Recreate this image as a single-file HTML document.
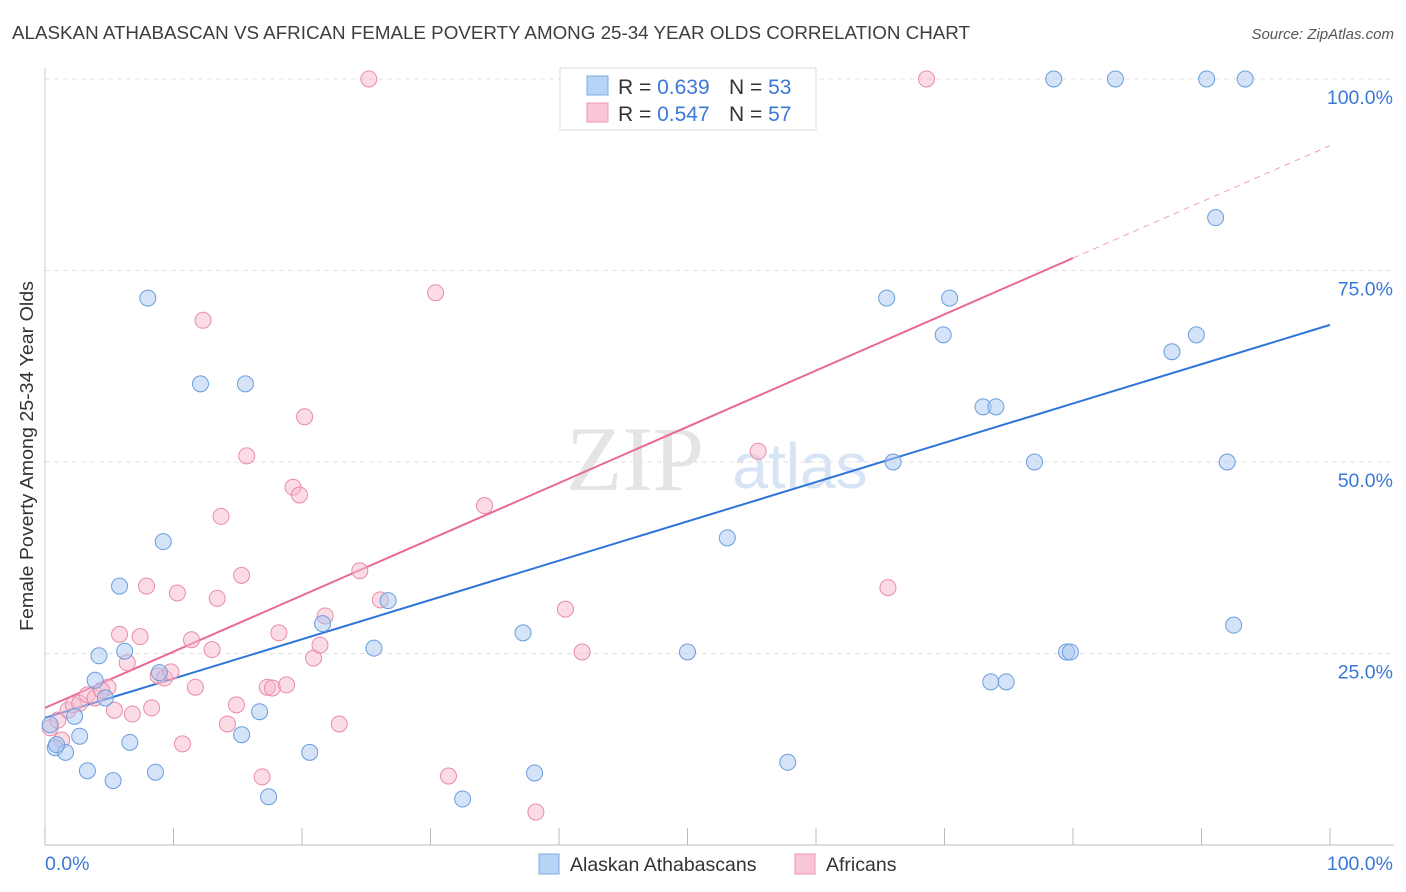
<!DOCTYPE html>
<html><head><meta charset="utf-8"><style>
body{margin:0;background:#fff;font-family:"Liberation Sans",sans-serif;}
svg{display:block}
</style></head><body>
<svg id="chart" width="1406" height="892">
<text x="12" y="39" font-size="18" fill="#3d3d3d" textLength="958" lengthAdjust="spacingAndGlyphs">ALASKAN ATHABASCAN VS AFRICAN FEMALE POVERTY AMONG 25-34 YEAR OLDS CORRELATION CHART</text>
<text x="1394" y="39" font-size="15" fill="#555" text-anchor="end" font-style="italic">Source: ZipAtlas.com</text>
<text x="635" y="490" font-size="92" fill="#e4e4e4" text-anchor="middle" font-family="Liberation Serif,serif">ZIP</text>
<text x="800" y="488" font-size="64" fill="#d6e4f5" text-anchor="middle">atlas</text>
<g id="grid"></g>
<g id="axes"></g>
<g id="lines"></g>
<g id="pts"></g>
<text x="33" y="456" font-size="18" fill="#333" text-anchor="middle" textLength="350" lengthAdjust="spacingAndGlyphs" transform="rotate(-90 33 456)">Female Poverty Among 25-34 Year Olds</text>
<g>
<rect x="560" y="68" width="256" height="62" fill="#fff" stroke="#ddd"/>
<rect x="587" y="76" width="21" height="19" fill="#b7d3f5" stroke="#7eaae6"/>
<rect x="587" y="103" width="21" height="19" fill="#f9c6d5" stroke="#ec9ab4"/>
<text x="618" y="94" font-size="21" fill="#333">R = <tspan fill="#3a78d8">0.639</tspan></text>
<text x="729" y="94" font-size="21" fill="#333">N = <tspan fill="#3a78d8">53</tspan></text>
<text x="618" y="121" font-size="21" fill="#333">R = <tspan fill="#3a78d8">0.547</tspan></text>
<text x="729" y="121" font-size="21" fill="#333">N = <tspan fill="#3a78d8">57</tspan></text>
</g>
<g>
<rect x="539" y="854" width="20" height="20" fill="#b7d3f5" stroke="#7eaae6"/>
<text x="570" y="871" font-size="19.5" fill="#333">Alaskan Athabascans</text>
<rect x="795" y="854" width="20" height="20" fill="#f9c6d5" stroke="#ec9ab4"/>
<text x="826" y="871" font-size="19.5" fill="#333">Africans</text>
</g>
</svg>
<script>
const blueX=[0.8,1.6,2.7,3.3,5.3,2.3,4.2,3.9,6.2,4.7,6.6,8.0,8.6,8.9,9.2,5.8,12.1,15.6,16.7,15.3,17.4,20.6,21.6,25.6,26.7,32.5,37.2,38.1,50.0,53.1,57.8,65.5,66.0,69.9,70.4,73.0,74.0,73.6,74.8,77.0,78.5,79.5,79.8,83.3,87.7,89.6,90.4,91.1,92.0,92.5,93.4,0.4,0.9];
const blueY=[12.7,12.1,14.2,9.7,8.4,16.8,24.7,21.5,25.3,19.2,13.4,71.4,9.5,22.5,39.6,33.8,60.2,60.2,17.4,14.4,6.3,12.1,28.9,25.7,31.9,6.0,27.7,9.4,25.2,40.1,10.8,71.4,50.0,66.6,71.4,57.2,57.2,21.3,21.3,50.0,100,25.2,25.2,100,64.4,66.6,100,81.9,50.0,28.7,100,15.7,13.1];
const pinkX=[0.4,1.0,1.3,1.8,2.2,2.7,3.3,3.9,4.9,4.4,5.4,5.8,6.4,6.8,7.4,7.9,8.3,8.8,9.3,9.8,10.3,10.7,11.7,11.4,12.3,13.0,13.4,13.7,14.2,14.9,15.3,15.7,16.9,17.3,17.7,18.2,18.8,19.3,19.8,20.2,20.9,21.4,21.8,22.9,24.5,25.2,26.1,30.4,31.4,34.2,38.2,40.5,41.8,55.5,58.2,65.6,68.6];
const pinkY=[15.3,16.3,13.7,17.6,18.3,18.5,19.6,19.2,20.6,20.2,17.6,27.5,23.8,17.1,27.2,33.8,17.9,22.1,21.8,22.6,32.9,13.2,20.6,26.8,68.5,25.5,32.2,42.9,15.8,18.3,35.2,50.8,8.9,20.6,20.5,27.7,20.9,46.7,45.7,55.9,24.4,26.1,29.9,15.8,35.8,100,32.0,72.1,9.0,44.3,4.3,30.8,25.2,51.4,100,33.6,100];
const blueLine=[16.6,67.9];
const pinkLine=[17.9,91.3];
const pinkSolidEnd=80;
const yTicks=[25,50,75,100];
const yTickLabels=["25.0%","50.0%","75.0%","100.0%"];
const xTicks=[0,10,20,30,40,50,60,70,80,90,100];
const NS="http://www.w3.org/2000/svg";
const sx=v=>45+v*12.85, sy=v=>845-v*7.66;
function mk(tag,attrs,parent){const e=document.createElementNS(NS,tag);for(const k in attrs)e.setAttribute(k,attrs[k]);document.getElementById(parent).appendChild(e);return e;}
yTicks.forEach((t,i)=>{
 const g=mk('line',{x1:45,x2:1394,y1:sy(t),y2:sy(t),stroke:'#e2e2e2','stroke-dasharray':'5,4'},'grid');
 
 
 const l=mk('text',{x:1393,y:sy(t)+25,'font-size':19.5,fill:'#3a78d8','text-anchor':'end'},'axes');
 l.textContent=yTickLabels[i];
 
 
});
const ax=mk('line',{x1:45,x2:1394,y1:845,y2:845,stroke:'#bbb'},'axes');


const ay=mk('line',{x1:45,x2:45,y1:68,y2:845,stroke:'#ccc'},'axes');


xTicks.forEach(t=>{
 const k=mk('line',{x1:sx(t),x2:sx(t),y1:828,y2:845,stroke:'#bbb'},'axes');
 
 
});
const x0=mk('text',{x:45,y:870,'font-size':19.5,fill:'#3a78d8'},'axes');x0.textContent='0.0%';


const x1=mk('text',{x:1393,y:870,'font-size':19.5,fill:'#3a78d8','text-anchor':'end'},'axes');x1.textContent='100.0%';


function drawPts(X,Y,fill,stroke,name){X.forEach((x,i)=>{const c=mk('circle',{cx:sx(x),cy:sy(Y[i]),r:8,fill:fill,'fill-opacity':0.5,stroke:stroke,'stroke-width':1},'pts');
 
 });}
drawPts(pinkX,pinkY,'#f7b9cc','#e98bab','african-point');
drawPts(blueX,blueY,'#a9c8f0','#6a9de0','athabascan-point');
const bl=mk('line',{x1:sx(0),y1:sy(blueLine[0]),x2:sx(100),y2:sy(blueLine[1]),stroke:'#2f74d8','stroke-width':2},'lines');


const pAt=x=>pinkLine[0]+(pinkLine[1]-pinkLine[0])*x/100;
const pl=mk('line',{x1:sx(0),y1:sy(pAt(0)),x2:sx(pinkSolidEnd),y2:sy(pAt(pinkSolidEnd)),stroke:'#e8689a','stroke-width':2},'lines');


const pd=mk('line',{x1:sx(pinkSolidEnd),y1:sy(pAt(pinkSolidEnd)),x2:sx(100),y2:sy(pAt(100)),stroke:'#f0a0bc','stroke-width':1,'stroke-dasharray':'6,5'},'lines');


</script>
</body></html>
